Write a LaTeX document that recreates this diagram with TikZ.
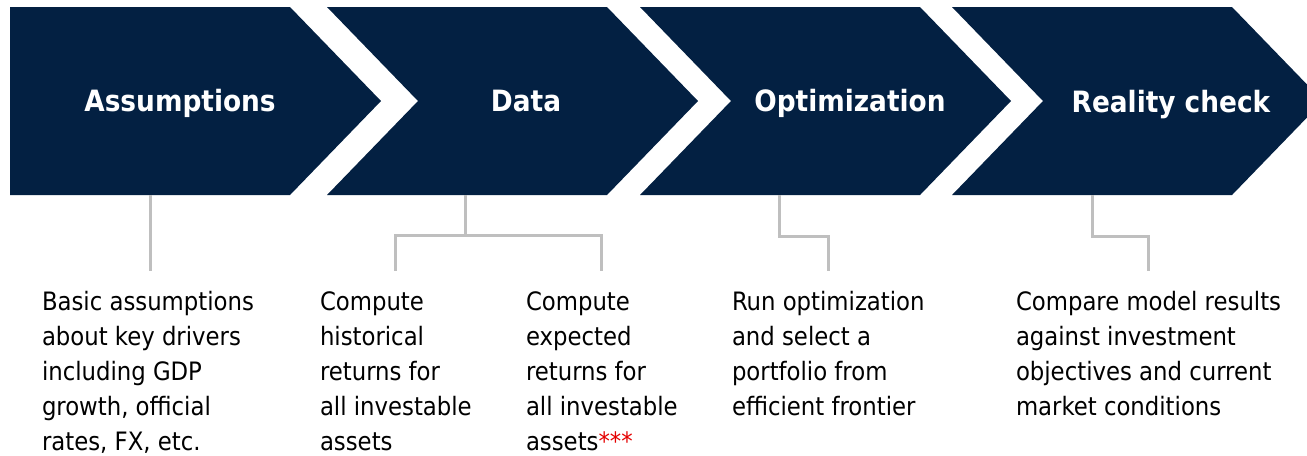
\documentclass[tikz,border=0pt]{standalone}
\usepackage{fontspec}
\setmainfont{DejaVu Sans Condensed}
\usetikzlibrary{positioning}
\definecolor{navy}{RGB}{3,32,66}
\definecolor{linkgray}{RGB}{191,191,191}
\definecolor{starred}{RGB}{228,0,0}

\begin{document}
\begin{tikzpicture}[x=0.75pt,y=-0.75pt,
  title/.style={text=white,font=\fontsize{22}{26}\selectfont\bfseries},
  desc/.style={anchor=north west,align=left,inner xsep=0pt,inner ysep=15.5pt,outer sep=0pt,
    font=\fontsize{19}{26.25}\selectfont},
  link/.style={draw=linkgray,line width=2.25pt}]
  \path[use as bounding box,clip] (0,0) rectangle (1307,455);
  \foreach \x/\d in {10/0,327/91,640/91,952/91}
    \fill[navy] (\x,7) -- ++(280,0) -- ++(91,94) -- ++(-91,94) -- ++(-280,0) -- ++(\d,-94) -- cycle;

  \node[title] (t1) at (180,103) {Assumptions};
  \node[title] (t2) at (526,101) {Data};
  \node[title] (t3) at (850,103) {Optimization};
  \node[title] (t4) at (1171,105) {Reality check};

  \node[desc] (d1) at (42,271) {Basic assumptions\\about key drivers\\including GDP\\growth, official\\rates, FX, etc.};
  \node[desc] (d2) at (320,271) {Compute\\historical\\returns for\\all investable\\assets};
  \node[desc] (d3) at (526,271) {Compute\\expected\\returns for\\all investable\\assets\textcolor{starred}{***}};
  \node[desc] (d4) at (732,271) {Run optimization\\and select a\\portfolio from\\efficient frontier};
  \node[desc] (d5) at (1016,271) {Compare model results\\against investment\\objectives and current\\market conditions};

  \coordinate (b1) at (150,195);
  \coordinate (b2) at (465,195);
  \coordinate (b3) at (779,195);
  \coordinate (b4) at (1092,195);
  \draw[link] (b1) -- (b1 |- d1.north);
  \draw[link] (b2) -- ++(0,40) coordinate (j2) -| (d2.north);
  \draw[link] (j2) -| (d3.north);
  \draw[link] (b3) -- ++(0,41) -| (d4.north);
  \draw[link] (b4) -- ++(0,41) -| (d5.north);
\end{tikzpicture}
\end{document}
